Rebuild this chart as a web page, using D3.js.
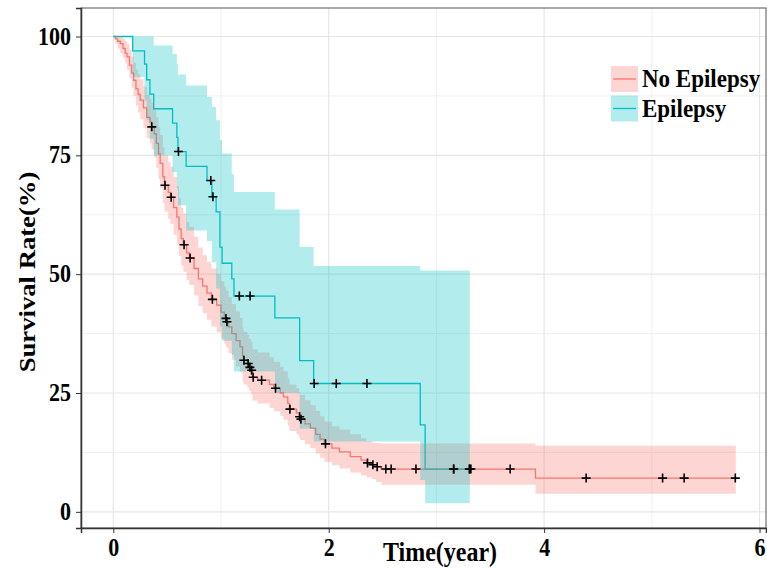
<!DOCTYPE html>
<html>
<head>
<meta charset="utf-8">
<script src="https://cdn.jsdelivr.net/npm/d3@7"></script>
<style>
  body { margin: 0; background: #fff; }
  text { font-family: "Liberation Serif", "Times New Roman", serif; font-weight: bold; fill: #000; }
</style>
</head>
<body>
<div id="container"></div>
<script>
// No Epilepsy group (red)
const redTime = [0,0.02,0.04,0.065,0.09,0.11,0.127,0.15,0.17,0.188,0.21,0.23,0.25,0.28,0.31,0.34,0.355,0.38,0.40,0.42,0.435,0.46,0.475,0.51,0.53,0.56,0.59,0.61,0.63,0.65,0.68,0.705,0.75,0.79,0.83,0.87,0.91,0.96,1.0,1.03,1.04,1.049,1.07,1.10,1.14,1.176,1.20,1.208,1.245,1.26,1.278,1.292,1.34,1.45,1.49,1.55,1.58,1.62,1.635,1.70,1.725,1.735,1.78,1.83,1.88,1.92,1.96,2.03,2.10,2.20,2.30,2.35,2.40,2.44,2.49,3.92];
const redSurv = [100,99.5,99,98.5,97.5,96.5,95.7,94,92.3,90.8,89,87.8,86.6,85,83,82,81,79.5,77.5,75.3,73.3,70.5,68.7,67.2,66.2,64,62,59.5,57.5,56.2,54.5,53.4,51.2,49,47.5,46,44.7,43.5,42,41,40.7,40.0,38.9,37.5,36,34.7,32.8,31.9,31.2,30.4,29.8,28.3,27.7,26.8,26.0,25,24.2,22.8,21.6,20.8,20.0,19.5,18.5,17.6,16.3,15.3,14.3,13.4,12.6,11.6,10.9,10.3,9.9,9.5,9.0,7.1];
const redLower = [100,98.5,97.5,96.5,95.5,94.3,93,91.2,89.2,87.5,85.5,84,82.6,80.8,78.6,77.5,76.3,74.5,72.4,70,68,65,63.2,61.6,60.5,58.3,56.3,53.8,51.8,50.5,48.8,47.7,45.5,43.3,41.8,40.4,39,37.8,36.4,35.4,35.1,34.5,33.4,32,30.6,29.4,27.6,26.8,26.1,25.4,24.8,23.4,22.8,21.9,21.1,20.2,19.4,18.1,17,16.3,15.6,15.1,14.2,13.4,12.3,11.4,10.5,9.8,9.1,8.3,7.7,7.2,6.9,6.3,5.7,3.8];
const redUpper = [100,100,100,100,99.5,99,98.5,97.2,95.8,94.5,93,92,91,89.5,87.8,86.9,86,84.8,83,81,79.3,76.7,75,73.6,72.6,70.5,68.5,66,64,62.8,61,60,57.8,55.6,54,52.6,51.2,50,48.5,47.5,47.2,46.5,45.2,43.7,42.2,40.8,38.8,37.9,37.2,36.4,35.8,34.2,33.5,32.5,31.6,30.5,29.6,28.1,26.8,26,25.1,24.6,23.5,22.5,21.2,20.1,19,18,17.3,16.3,15.5,14.9,14.6,14.5,14.4,13.9];
const redCensor = [0.357,0.48,0.537,0.657,0.713,0.92,1.046,1.055,1.213,1.252,1.268,1.284,1.299,1.377,1.506,1.64,1.73,1.742,1.97,2.36,2.41,2.45,2.53,2.58,2.81,3.16,3.305,3.32,3.685,4.39,5.10,5.30,5.775];
const redEnd = 5.78;

// Epilepsy group (teal)
const tealTime = [0,0.18,0.29,0.31,0.34,0.375,0.55,0.59,0.60,0.676,0.87,0.915,0.955,0.99,1.01,1.10,1.12,1.5,1.73,1.86,2.85,2.895];
const tealSurv = [100,97,94.2,90.9,87.9,84.8,81.8,78.8,75.8,72.7,69.7,66.3,63.1,55.7,52.3,49.0,45.4,40.8,31.8,27.0,18.3,9.0];
const tealLower = [100,91.5,86.5,82.5,78.5,75,71.5,68,64.5,59.2,57,52.5,47,39,36,33,29.5,25,17.5,14.8,6.7,1.8];
const tealUpper = [100,100,100,100,100,98.1,96.3,94.2,92,89.7,87.3,85.2,82.4,78.2,75.4,71,67.3,63.6,55.7,51.7,50.8,50.8];
const tealCensor = [0.605,0.905,0.925,1.17,1.27,1.865,2.07,2.355,3.16,3.31];
const tealEnd = 3.31;

const xTicks = [0, 2, 4, 6];
const xMinor = [1, 3, 5];
const yTicks = [0, 25, 50, 75, 100];
const yMinor = [12.5, 37.5, 62.5, 87.5];
const groups = ["No Epilepsy", "Epilepsy"];

const colors = { red: "#F8766D", teal: "#00BFC4" };

const W = 767, H = 568;
const panel = { left: 81, right: 766, top: 8, bottom: 528 };

const svg = d3.select("#container").append("svg")
    .attr("width", W)
    .attr("height", H);

const x = d3.scaleLinear().domain([-0.3, 6.06]).range([panel.left, panel.right]);
const y = d3.scaleLinear().domain([-3.4, 106]).range([panel.bottom, panel.top]);

// grid
const grid = svg.append("g");
grid.selectAll(".vmin").data(xMinor).enter().append("line")
    .attr("x1", d => x(d)).attr("x2", d => x(d))
    .attr("y1", panel.top).attr("y2", panel.bottom)
    .attr("stroke", "#f0f0f0").attr("stroke-width", 1);
grid.selectAll(".hmin").data(yMinor).enter().append("line")
    .attr("y1", d => y(d)).attr("y2", d => y(d))
    .attr("x1", panel.left).attr("x2", panel.right)
    .attr("stroke", "#f0f0f0").attr("stroke-width", 1);
grid.selectAll(".vmaj").data(xTicks).enter().append("line")
    .attr("x1", d => x(d)).attr("x2", d => x(d))
    .attr("y1", panel.top).attr("y2", panel.bottom)
    .attr("stroke", "#e6e6e6").attr("stroke-width", 1.2);
grid.selectAll(".hmaj").data(yTicks).enter().append("line")
    .attr("y1", d => y(d)).attr("y2", d => y(d))
    .attr("x1", panel.left).attr("x2", panel.right)
    .attr("stroke", "#e6e6e6").attr("stroke-width", 1.2);

function stepData(times, surv, lower, upper, end) {
    const pts = times.map((t, i) => ({ t: t, s: surv[i], lo: lower[i], hi: upper[i] }));
    const last = pts[pts.length - 1];
    pts.push({ t: end, s: last.s, lo: last.lo, hi: last.hi });
    return pts;
}

function survAt(times, surv, t) {
    let s = surv[0];
    times.forEach((tt, i) => { if (tt <= t) s = surv[i]; });
    return s;
}

const redPts = stepData(redTime, redSurv, redLower, redUpper, redEnd);
const tealPts = stepData(tealTime, tealSurv, tealLower, tealUpper, tealEnd);

const line = d3.line().x(d => x(d.t)).y(d => y(d.s)).curve(d3.curveStepAfter);
const area = d3.area().x(d => x(d.t)).y0(d => y(d.lo)).y1(d => y(d.hi)).curve(d3.curveStepAfter);

const plot = svg.append("g");

plot.append("path").attr("d", line(redPts))
    .attr("fill", "none").attr("stroke", colors.red).attr("stroke-width", 1.3);
plot.append("path").attr("d", line(tealPts))
    .attr("fill", "none").attr("stroke", colors.teal).attr("stroke-width", 1.3);

plot.append("path").attr("d", area(redPts))
    .attr("fill", colors.red).attr("fill-opacity", 0.3);
plot.append("path").attr("d", area(tealPts))
    .attr("fill", colors.teal).attr("fill-opacity", 0.3);

const cross = "M-4.5,0H4.5M0,-4.5V4.5";
plot.selectAll(".cr").data(redCensor).enter().append("path")
    .attr("d", cross)
    .attr("transform", d => `translate(${x(d)},${y(survAt(redTime, redSurv, d))})`)
    .attr("stroke", "#000").attr("stroke-width", 1.6);
plot.selectAll(".ct").data(tealCensor).enter().append("path")
    .attr("d", cross)
    .attr("transform", d => `translate(${x(d)},${y(survAt(tealTime, tealSurv, d))})`)
    .attr("stroke", "#000").attr("stroke-width", 1.6);

// panel border
svg.append("rect")
    .attr("x", panel.left).attr("y", panel.top)
    .attr("width", panel.right - panel.left).attr("height", panel.bottom - panel.top)
    .attr("fill", "none").attr("stroke", "#555").attr("stroke-width", 1);

// axes
const yAxis = svg.append("g")
    .attr("transform", `translate(${panel.left},0)`)
    .call(d3.axisLeft(y).tickValues(yTicks).tickSize(5).tickPadding(5));
const xAxis = svg.append("g")
    .attr("transform", `translate(0,${panel.bottom})`)
    .call(d3.axisBottom(x).tickValues(xTicks).tickFormat(d3.format("d")).tickSize(5).tickPadding(4));

[xAxis, yAxis].forEach(a => {
    a.select(".domain").attr("stroke", "#333").attr("stroke-width", 1.5);
    a.selectAll(".tick line").attr("stroke", "#333");
    a.selectAll(".tick text")
        .style("font-family", '"Liberation Serif", serif')
        .style("font-weight", "bold")
        .style("font-size", "22px")
        .attr("fill", "#000")
        .attr("transform", "scale(1,1.15)");
});
yAxis.selectAll(".tick text").attr("dy", "0.3em");

svg.append("text")
    .attr("transform", "translate(440,561) scale(1,1.12)")
    .attr("text-anchor", "middle")
    .style("font-size", "24px")
    .text("Time(year)");

svg.append("text")
    .attr("transform", "translate(35,272) rotate(-90) scale(1.16,1)")
    .attr("text-anchor", "middle")
    .style("font-size", "23px")
    .text("Survival Rate(%)");

// legend
const legend = svg.append("g").attr("transform", "translate(611,66)");
const keyColors = [colors.red, colors.teal];
groups.forEach((g, i) => {
    const row = legend.append("g").attr("transform", `translate(0,${i * 29.5})`);
    row.append("rect").attr("width", 27).attr("height", 26)
        .attr("fill", keyColors[i]).attr("fill-opacity", 0.3);
    row.append("line").attr("x1", 2).attr("x2", 25).attr("y1", 13).attr("y2", 13)
        .attr("stroke", keyColors[i]).attr("stroke-width", 1.3);
    row.append("text")
        .attr("transform", "translate(31,21) scale(1,1.08)")
        .style("font-size", "23px")
        .text(g);
});
</script>
</body>
</html>
